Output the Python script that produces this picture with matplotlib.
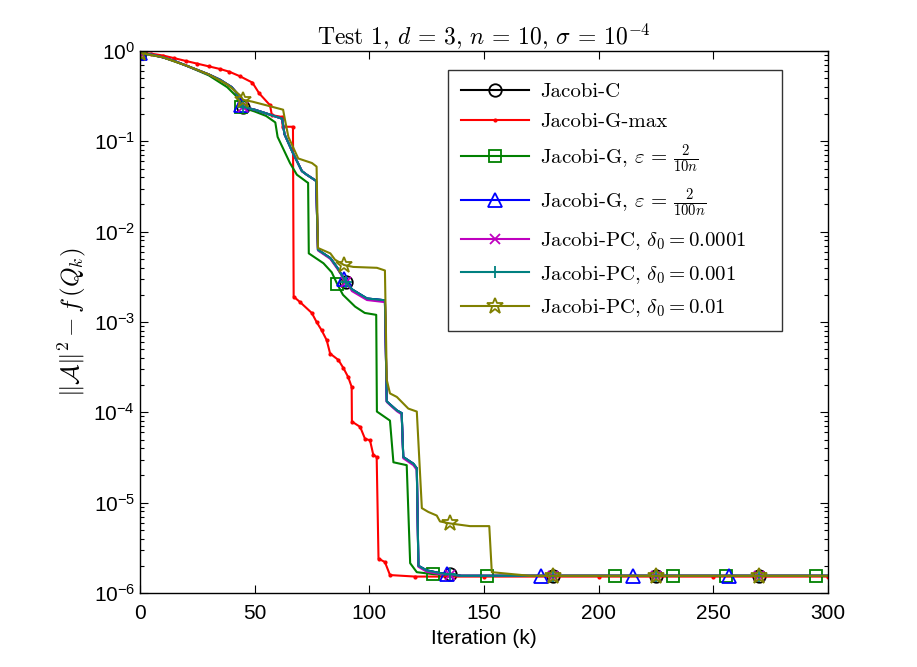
import numpy as np
import matplotlib
matplotlib.use("Agg")
import matplotlib.pyplot as plt
from matplotlib.font_manager import FontProperties

plt.rcParams['font.family'] = ['Liberation Sans', 'DejaVu Sans']

# values
# shared curve of Jacobi-C / Jacobi-G (2/100n) / Jacobi-PC 1e-4 / Jacobi-PC 1e-3
clu_it = [0, 5, 10, 15, 20, 25, 30, 35, 40, 42, 44, 45, 50, 55, 62, 63, 66.7, 70.6, 72.7,
          76.3, 76.8, 77.6, 83, 86, 89, 90, 92.4, 99, 106.8, 107.6, 112, 114.1, 114.8,
          119.2, 120.7, 121.4, 125, 130.8, 134, 135, 140, 175, 180, 215, 225, 257, 270, 300]
clu_val = [0.955, 0.912, 0.851, 0.776, 0.692, 0.617, 0.550, 0.479, 0.398, 0.347, 0.251, 0.240,
           0.224, 0.204, 0.178, 0.120, 0.0741, 0.0468, 0.0427, 0.0372, 0.0363, 6.3e-3, 5.1e-3,
           4.0e-3, 3.0e-3, 2.8e-3, 2.3e-3, 1.82e-3, 1.74e-3, 1.32e-4, 1.05e-4, 9.8e-5, 3.2e-5,
           2.7e-5, 2.4e-5, 2.0e-6, 1.78e-6, 1.66e-6, 1.62e-6, 1.62e-6, 1.55e-6, 1.55e-6,
           1.55e-6, 1.55e-6, 1.55e-6, 1.55e-6, 1.55e-6, 1.55e-6]
mag_val = [0.955, 0.912, 0.851, 0.776, 0.692, 0.617, 0.550, 0.479, 0.398, 0.347, 0.251, 0.240,
           0.224, 0.204, 0.178, 0.120, 0.0741, 0.0468, 0.0427, 0.0372, 0.0363, 6.2e-3, 5.0e-3,
           3.9e-3, 3.0e-3, 2.8e-3, 2.2e-3, 1.75e-3, 1.66e-3, 1.30e-4, 1.03e-4, 9.5e-5, 3.1e-5,
           2.6e-5, 2.3e-5, 1.95e-6, 1.72e-6, 1.62e-6, 1.6e-6, 1.6e-6, 1.55e-6, 1.55e-6,
           1.55e-6, 1.55e-6, 1.55e-6, 1.55e-6, 1.55e-6, 1.55e-6]

red_it = [0, 5, 10, 15, 20, 25, 30, 35, 39, 43.6, 49, 52, 56.7, 57.5, 62, 62.2, 66.7, 67, 69.8,
          74.9, 77, 79.2, 81.4, 82.9, 86.5, 88.7, 90.8, 92.3, 92.4, 96, 98.1, 100.3, 101.7,
          103.2, 104, 106.8, 109, 120, 150, 200, 250, 300]
red_val = [0.955, 0.933, 0.891, 0.832, 0.776, 0.724, 0.676, 0.631, 0.589, 0.525, 0.447, 0.339,
           0.251, 0.195, 0.186, 0.145, 0.145, 1.91e-3, 1.66e-3, 1.26e-3, 1.0e-3, 8.1e-4, 6.3e-4,
           4.47e-4, 3.8e-4, 3.09e-4, 2.45e-4, 1.91e-4, 7.9e-5, 6.9e-5, 5.1e-5, 4.9e-5, 3.4e-5,
           3.2e-5, 2.4e-6, 2.2e-6, 1.58e-6, 1.52e-6, 1.52e-6, 1.52e-6, 1.52e-6, 1.52e-6]

grn_it = [0, 10, 20, 30, 38, 42, 44, 50, 55, 59, 60, 65.4, 68.4, 70.6, 72.7, 73.3, 73.6, 80,
          83.6, 86, 88.5, 93.8, 98, 103, 103.3, 109, 110.5, 116.3, 117.8, 120.7, 127.6, 140,
          151.5, 207, 232.5, 255.5, 294.6, 300]
grn_val = [0.955, 0.851, 0.692, 0.537, 0.398, 0.316, 0.240, 0.214, 0.191, 0.162, 0.112, 0.0575,
           0.0427, 0.0389, 0.0355, 0.0347, 5.75e-3, 4.47e-3, 3.55e-3, 2.63e-3, 2.0e-3, 1.48e-3,
           1.26e-3, 1.20e-3, 1.02e-4, 8.1e-5, 2.8e-5, 2.6e-5, 2.14e-6, 1.70e-6, 1.62e-6,
           1.55e-6, 1.55e-6, 1.55e-6, 1.55e-6, 1.55e-6, 1.55e-6, 1.55e-6]

olv_it = [0, 10, 20, 30, 38, 43.6, 45, 49, 55, 62.4, 63.2, 64.7, 69, 75, 77, 77.6, 83, 85, 89,
          93, 103.3, 106.8, 107.6, 109, 112, 117, 120.7, 122.9, 125.7, 129.4, 130.8, 135, 143.9,
          152.3, 153.4, 170, 180, 225, 270, 300]
olv_val = [0.955, 0.851, 0.692, 0.550, 0.427, 0.324, 0.288, 0.275, 0.251, 0.224, 0.174, 0.112,
           0.0646, 0.0575, 0.0525, 6.6e-3, 5.75e-3, 4.9e-3, 4.27e-3, 4.07e-3, 3.98e-3, 3.72e-3,
           2.29e-4, 1.62e-4, 1.48e-4, 1.10e-4, 1.02e-4, 8.7e-6, 7.9e-6, 7.2e-6, 6.2e-6, 5.9e-6,
           5.5e-6, 5.5e-6, 1.70e-6, 1.55e-6, 1.55e-6, 1.55e-6, 1.55e-6, 1.55e-6]

# iterations where markers sit
marks_c = [0, 45, 90, 135, 180, 225, 270]
marks_b = [0, 44, 89, 134, 175, 215, 257]
marks_g = [0, 44, 86, 127.6, 151.5, 207, 232.5, 255.5, 294.6]
marks_o = [0, 45, 89, 135, 180, 225, 270]

labels = ['Jacobi-C', 'Jacobi-G-max',
          r'Jacobi-G, $\varepsilon\,=\,\frac{2}{10n}$',
          r'Jacobi-G, $\varepsilon\,=\,\frac{2}{100n}$',
          r'Jacobi-PC, $\delta_0 = 0.0001$',
          r'Jacobi-PC, $\delta_0 = 0.001$',
          r'Jacobi-PC, $\delta_0 = 0.01$']


def idx(its, marks):
    return [its.index(m) for m in marks]


fig = plt.figure(figsize=(9.17, 6.67), dpi=100)
ax = fig.add_axes([140 / 917, 74 / 667, 688 / 917, 542 / 667])

lw = 1.5
ax.plot(clu_it, clu_val, color='k', lw=lw, marker='o', ms=9, mfc='none', mew=1.3,
        markevery=idx(clu_it, marks_c), label=labels[0])
ax.plot(red_it, red_val, color='r', lw=lw, marker='.', ms=4,
        label=labels[1])
ax.plot(grn_it, grn_val, color='#008000', lw=lw, marker='s', ms=9, mfc='none', mew=1.3,
        markevery=idx(grn_it, marks_g), label=labels[2])
ax.plot(clu_it, clu_val, color='b', lw=lw, marker='^', ms=10, mfc='none', mew=1.3,
        markevery=idx(clu_it, marks_b), label=labels[3])
ax.plot(clu_it, mag_val, color='m', lw=lw, marker='x', ms=7, mew=1.3,
        markevery=idx(clu_it, marks_c), label=labels[4])
ax.plot(clu_it, clu_val, color='#008080', lw=lw, marker='+', ms=9, mew=1.3,
        markevery=idx(clu_it, marks_c), label=labels[5])
ax.plot(olv_it, olv_val, color='#808000', lw=lw, marker='*', ms=12, mfc='none', mew=1.3,
        markevery=idx(olv_it, marks_o), label=labels[6])

ax.set_yscale('log')
ax.set_xlim(0, 300)
ax.set_ylim(1e-6, 1)
ax.set_xticks(np.arange(0, 301, 50))
ax.yaxis.set_minor_formatter(matplotlib.ticker.NullFormatter())
ax.tick_params(which='both', direction='in', top=True, right=True, labelsize=15)
ax.tick_params(which='major', length=6, width=0.8)
ax.tick_params(which='minor', length=3, width=0.8)
ax.tick_params(axis='x', pad=8)
for s in ax.spines.values():
    s.set_linewidth(1.0)

ax.set_xlabel('Iteration (k)', fontsize=15)
ax.set_ylabel(r'$\|\mathcal{A}\|^2 - f\,(Q_k)$',
              fontproperties=FontProperties(size=18, math_fontfamily='cm'))
ax.set_title(r'Test 1, $d$ = 3, $n$ = 10, $\sigma$ = $10^{-4}$', pad=5,
             fontproperties=FontProperties(family='cmr10', size=17, math_fontfamily='cm'))

leg = ax.legend(loc='upper left', bbox_to_anchor=(0.448, 0.485, 0.485, 0.48), mode='expand',
                fancybox=False, borderaxespad=0,
                prop=FontProperties(family='cmr10', size=15, math_fontfamily='cm'),
                handlelength=3.3, labelspacing=0.55, borderpad=0.6, handletextpad=0.5)
leg.get_frame().set_edgecolor('k')
leg.get_frame().set_linewidth(1.0)

fig.savefig('out.png', dpi=100)
